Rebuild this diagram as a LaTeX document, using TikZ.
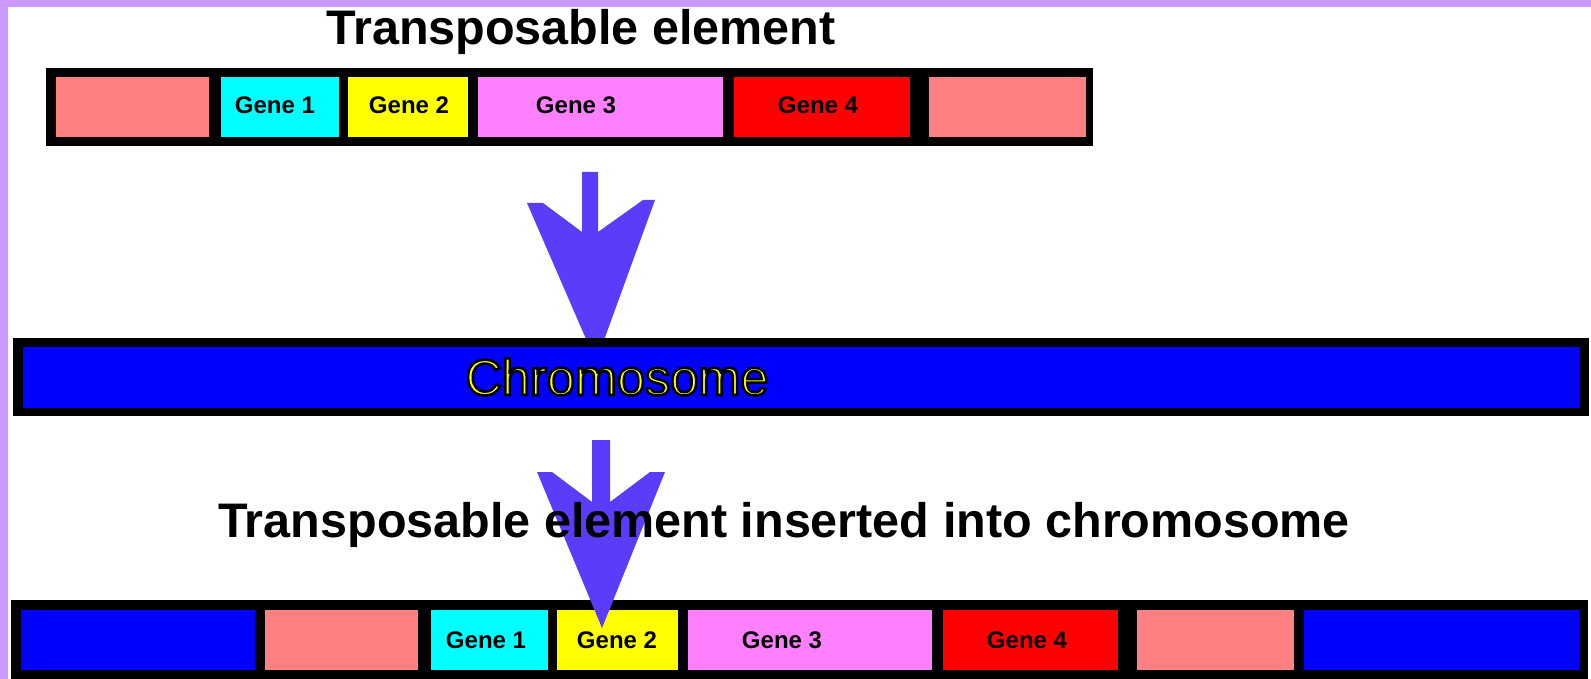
\documentclass[tikz,border=0pt]{standalone}
\usepackage{fontspec}
\setmainfont{Liberation Sans}
\definecolor{bordpurple}{RGB}{204,153,255}
\definecolor{salmonc}{RGB}{255,128,128}
\definecolor{violetc}{RGB}{255,128,255}
\definecolor{cyanc}{RGB}{0,255,255}
\definecolor{yellowc}{RGB}{255,255,0}
\definecolor{redc}{RGB}{255,0,0}
\definecolor{bluec}{RGB}{0,0,255}
\definecolor{arrowc}{RGB}{90,60,250}
\tikzset{
  seg/.style={draw=none, inner sep=0pt, outer sep=0pt, minimum height=60pt},
  frame/.style={fill=black, draw=none, inner sep=0pt, outer sep=0pt},
  genelabel/.style={anchor=base, inner sep=0pt, font=\fontsize{24}{24}\selectfont\bfseries},
  title/.style={anchor=base, inner sep=0pt, font=\fontsize{48.5}{49}\selectfont\bfseries},
  bigarrow/.style={fill=arrowc, draw=none}
}
\begin{document}
\begin{tikzpicture}[x=1pt, y=-1pt]
\useasboundingbox (0,0) rectangle (1591,679);
\begin{scope}
\clip (0,0) rectangle (1591,679);
% purple border
\fill[bordpurple] (0,0) rectangle (1591,7);
\fill[bordpurple] (0,0) rectangle (8,679);

% title 1
\node[title] (title1) at (581,45) {Transposable element};

% top row
\node[frame, minimum width=1047pt, minimum height=78pt] (toprow) at (569.5,107) {};
\node[seg, fill=salmonc, minimum width=153pt] (tpL) at (132.5,107) {};
\node[seg, fill=cyanc,   minimum width=118pt] (tg1) at (280,107) {};
\node[seg, fill=yellowc, minimum width=120pt] (tg2) at (408,107) {};
\node[seg, fill=violetc, minimum width=245pt] (tg3) at (600.5,107) {};
\node[seg, fill=redc,    minimum width=176pt] (tg4) at (822,107) {};
\node[seg, fill=salmonc, minimum width=157pt] (tpR) at (1007.5,107) {};
\node[genelabel] (tl1) at (275,114) {Gene 1};
\node[genelabel] (tl2) at (409,114) {Gene 2};
\node[genelabel] (tl3) at (576,114) {Gene 3};
\node[genelabel] (tl4) at (818,114) {Gene 4};

% arrow 1
\fill[bigarrow] (582,172) -- (598,172) -- (598,232) -- (643,200) -- (655,200)
  -- (596,362) -- (527,203) -- (543,203) -- (582,232) -- cycle;

% chromosome
\node[frame, minimum width=1576pt, minimum height=78pt] (chromframe) at (801,377) {};
\node[seg, fill=bluec, minimum width=1557pt, minimum height=61pt] (chrom) at (801.5,377.5) {};
\node[anchor=base, inner sep=0pt, text=yellowc, font=\fontsize{50.5}{51}\selectfont] (chromtext) at (617,395)
  {\special{pdf:literal direct 2 Tr 2.6 w 0 0 0 RG}Chromosome\special{pdf:literal direct 0 Tr}};

% bottom row
\node[frame, minimum width=1577pt, minimum height=90pt] (botrow) at (799.5,645) {};
\node[seg, fill=bluec,   minimum width=234pt] (bB1) at (138,640) {};
\node[seg, fill=salmonc, minimum width=153pt] (bpL) at (341.5,640) {};
\node[seg, fill=cyanc,   minimum width=117pt] (bg1) at (489.5,640) {};
\node[seg, fill=yellowc, minimum width=121pt] (bg2) at (617.5,640) {};
\node[seg, fill=violetc, minimum width=244pt] (bg3) at (810,640) {};
\node[seg, fill=redc,    minimum width=175pt] (bg4) at (1030.5,640) {};
\node[seg, fill=salmonc, minimum width=157pt] (bpR) at (1215.5,640) {};
\node[seg, fill=bluec,   minimum width=276pt] (bB2) at (1441.5,640) {};
\node[genelabel] (bl1) at (486,648) {Gene 1};
\node[genelabel] (bl2) at (617,648) {Gene 2};
\node[genelabel] (bl3) at (782,648) {Gene 3};
\node[genelabel] (bl4) at (1027,648) {Gene 4};

% arrow 2
\fill[bigarrow] (592,440) -- (610,440) -- (610,502) -- (650,472) -- (665,472)
  -- (602,628) -- (537,472) -- (552,472) -- (592,502) -- cycle;

% title 2
\node[title] (title2) at (784,537) {Transposable element inserted into chromosome};
\end{scope}
\end{tikzpicture}
\end{document}
